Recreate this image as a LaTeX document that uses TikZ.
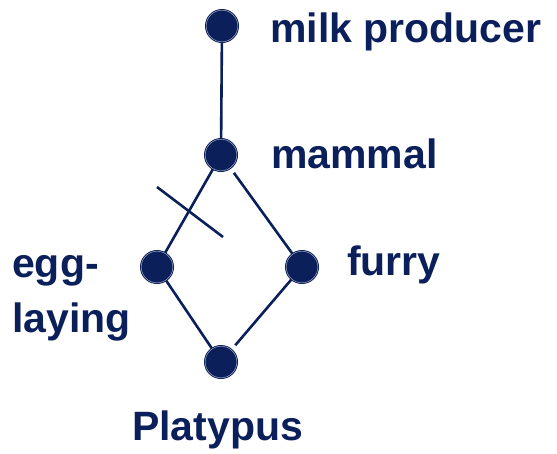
\documentclass[tikz,border=0pt]{standalone}
\usepackage{fontspec}
\setmainfont{Liberation Sans}
\usetikzlibrary{calc}
\definecolor{navy}{HTML}{0B1F5B}
\begin{document}
\begin{tikzpicture}[x=1pt,y=-1pt,
  edge/.style={draw=navy,line width=2.6pt},
  ring/.style={draw=navy!40!white,line width=0.5pt},
  lbl/.style={text=navy,font=\fontsize{41}{54}\selectfont\bfseries,inner sep=0pt}]
\useasboundingbox (0,0) rectangle (557,453);
\coordinate (mk) at (222,26);
\coordinate (mm) at (221,155);
\coordinate (eg) at (157,267);
\coordinate (fu) at (302,267);
\coordinate (pl) at (221,362);
\draw[edge] (mk) -- (mm);
\draw[edge] (mm) -- (eg);
\draw[edge] ($(mm)!22pt!(fu)$) -- (fu);
\draw[edge] (eg) -- (pl);
\draw[edge] (fu) -- ($(pl)!22pt!(fu)$);
\coordinate (c1) at (157,187);
\coordinate (c2) at (223,237);
\draw[edge] (c1) -- (c2);
\foreach \n in {mk,mm,eg,fu,pl} {
  \fill[navy] (\n) circle (17pt);
  \draw[ring] (\n) circle (15.8pt);
}
\node[lbl,anchor=base west] (tmk) at (270,42) {milk producer};
\node[lbl,anchor=base west] (tmm) at (271,168) {mammal};
\node[lbl,anchor=base west] (tfu) at (347,275) {furry};
\node[lbl,anchor=base west] (teg1) at (12,277) {egg-};
\node[lbl,anchor=base west] (teg2) at (12,332) {laying};
\node[lbl,anchor=base west] (tpl) at (132,440) {Platypus};
\end{tikzpicture}
\end{document}
